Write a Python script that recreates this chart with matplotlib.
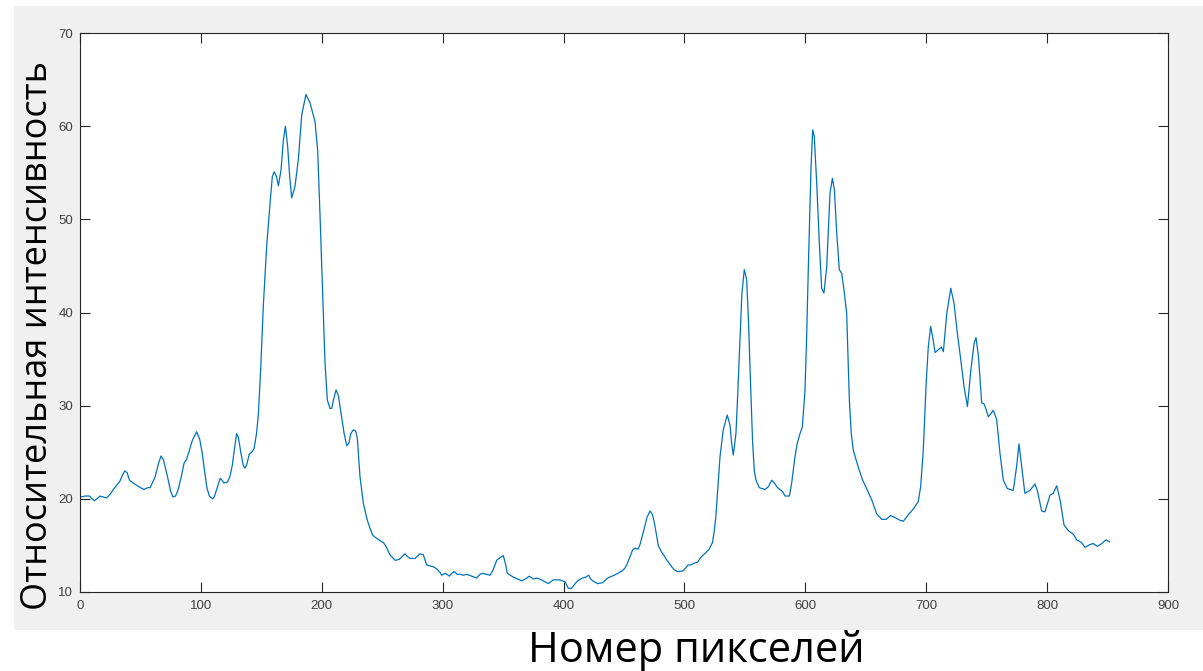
import matplotlib
matplotlib.use('Agg')
import matplotlib.pyplot as plt
from matplotlib.patches import Rectangle

# pixel index along the profile and relative intensity
pixel = [1, 4, 8, 10, 12, 14, 16.5, 19, 22, 25, 27.6, 33, 35, 37, 39, 41, 45, 50, 53, 56,
         58, 62, 65, 67, 69, 72, 75, 77, 79, 81, 84, 86, 88, 90, 93, 96.5, 99, 101, 103, 105,
         107, 109.5, 111, 113, 116, 117.5, 119, 122, 124, 126, 128, 129.6, 131, 133, 135, 136.5, 138, 140, 142, 144,
         146, 147.5, 149.5, 151.6, 154.4, 157.2, 159.1, 160.7, 162.5, 164.1, 166.3, 168.2, 169.9, 171.8, 173.5, 175.1, 177.8, 180.6, 183.4, 186.9,
         190.3, 194.4, 196.6, 198.5, 200.8, 202.7, 204.6, 206.8, 208.2, 210, 211.8, 213.7, 216.5, 218.5, 220.6, 222.5, 224, 226.1, 228, 229.4,
         231.6, 234.4, 237.7, 240, 242.1, 245, 248.2, 251, 253.1, 256.4, 260.6, 264.1, 266.5, 268.8, 271, 273, 277.1, 279.5, 281.2, 284,
         286.8, 289.5, 292.3, 295, 297.8, 299.2, 301.9, 303.5, 305.5, 307.5, 309.4, 312, 314.3, 317, 319.9, 324, 328.1, 331, 333.1, 336,
         339.2, 341.5, 344.7, 347.5, 350.2, 352, 353.5, 356, 358.4, 362, 365.4, 368.5, 371.7, 375, 377.8, 381.9, 384.5, 387.4, 389.5, 391.5,
         394, 397, 401.2, 403.9, 406.7, 409, 411.6, 415.8, 418.5, 420.7, 422.5, 424, 428.1, 432.3, 436.4, 441.9, 445, 448.8, 451, 452.9,
         455, 457.1, 459, 461.7, 463.5, 466.7, 469, 471.6, 473.5, 475, 476.8, 478.3, 481, 483.2, 485.5, 487.4, 489.5, 491.5, 494, 497,
         499, 501.1, 503, 505.3, 508, 510.8, 513, 514.9, 517.5, 520.4, 523.2, 524.6, 526, 527.5, 529.4, 532.1, 535.4, 537.7, 539, 540.4,
         542.6, 544, 545.9, 547.5, 549.5, 551.5, 553, 554.2, 556.4, 557.8, 559.2, 561.9, 566.6, 569.4, 572.2, 574.9, 577, 579, 581, 583.2,
         586.8, 588.7, 591.4, 593.4, 595.6, 597.5, 599.7, 601, 602.5, 604.7, 606.1, 607.4, 609.4, 611.6, 613.5, 615.4, 617.7, 620.4, 622.4, 624,
         626, 628.1, 630.1, 632, 634.2, 636.4, 638, 639.7, 643.8, 647.4, 650.7, 654.9, 659, 663.2, 666.8, 670.5, 674, 678.3, 681.1, 685.2,
         689.3, 693.4, 695.4, 697.6, 699.8, 701.7, 703.7, 705.3, 707.3, 710.9, 712.5, 714.2, 717, 720.3, 723, 725.8, 728.6, 731.3, 734.1, 736.9,
         739.6, 741.2, 743.2, 745.9, 747.8, 749.5, 751.4, 755.5, 758.3, 761, 763.8, 767.1, 772, 774.8, 776.7, 778.9, 781.6, 785.8, 789.9, 791.9,
         795.5, 798.2, 802.4, 805.1, 807.9, 810.7, 814, 817.5, 821.7, 824.5, 828.6, 831.3, 835.5, 838.2, 841.5, 845.2, 848.7, 851.5]
intensity = [20.2, 20.3, 20.3, 20.0, 19.8, 20.0, 20.3, 20.2, 20.1, 20.5, 21.0, 21.9, 22.5, 23.0, 22.8, 22.0, 21.6, 21.2, 21.0, 21.2,
             21.2, 22.3, 23.8, 24.6, 24.2, 22.6, 20.8, 20.2, 20.3, 20.9, 22.5, 23.8, 24.2, 25.0, 26.3, 27.2, 26.4, 25.0, 23.0, 21.2,
             20.3, 20.0, 20.2, 21.0, 22.2, 22.0, 21.7, 21.8, 22.4, 23.6, 25.6, 27.0, 26.6, 25.0, 23.6, 23.3, 23.7, 24.8, 25.0, 25.4,
             27.0, 29.0, 34.0, 40.6, 47.1, 51.7, 54.6, 55.1, 54.6, 53.6, 55.3, 58.5, 60.0, 57.8, 54.5, 52.3, 53.5, 56.4, 61.2, 63.4,
             62.5, 60.5, 57.4, 50.6, 41.7, 34.5, 30.6, 29.7, 29.7, 30.8, 31.7, 31.1, 28.7, 27.0, 25.7, 26.0, 27.0, 27.4, 27.3, 26.5,
             22.4, 19.5, 17.7, 16.8, 16.1, 15.8, 15.5, 15.3, 14.9, 14.0, 13.4, 13.5, 13.8, 14.1, 13.8, 13.6, 13.6, 13.9, 14.1, 14.0,
             12.9, 12.8, 12.7, 12.5, 12.1, 11.8, 12.0, 11.9, 11.7, 12.0, 12.2, 11.9, 11.9, 11.8, 11.9, 11.7, 11.5, 11.9, 12.0, 11.9,
             11.8, 12.3, 13.4, 13.7, 13.9, 13.0, 12.0, 11.8, 11.6, 11.4, 11.2, 11.4, 11.7, 11.4, 11.5, 11.3, 11.1, 10.9, 11.1, 11.3,
             11.3, 11.3, 11.1, 10.4, 10.4, 10.8, 11.2, 11.5, 11.6, 11.8, 11.4, 11.2, 10.9, 11.0, 11.5, 11.8, 12.0, 12.3, 12.6, 13.1,
             13.8, 14.5, 14.7, 14.6, 15.2, 16.8, 18.0, 18.7, 18.3, 17.5, 16.2, 15.0, 14.3, 13.9, 13.4, 13.1, 12.7, 12.4, 12.2, 12.2,
             12.3, 12.6, 12.9, 12.9, 13.1, 13.2, 13.6, 13.9, 14.2, 14.6, 15.3, 16.5, 18.1, 21.0, 24.5, 27.4, 29.0, 27.9, 26.0, 24.7,
             27.0, 31.0, 37.0, 42.0, 44.6, 43.5, 39.0, 34.2, 26.0, 23.0, 22.0, 21.2, 21.0, 21.3, 22.0, 21.6, 21.2, 21.0, 20.8, 20.3,
             20.3, 21.7, 24.5, 26.0, 27.0, 27.7, 31.6, 37.0, 44.9, 55.6, 59.6, 58.9, 53.9, 47.4, 42.6, 42.1, 44.9, 52.8, 54.4, 53.2,
             48.5, 44.6, 44.2, 42.4, 39.9, 30.6, 27.0, 25.2, 23.4, 22.0, 21.1, 19.9, 18.4, 17.8, 17.8, 18.2, 18.0, 17.7, 17.6, 18.3,
             18.9, 19.7, 21.3, 25.3, 32.0, 36.3, 38.5, 37.4, 35.7, 36.1, 36.3, 35.8, 39.9, 42.6, 41.0, 37.7, 34.9, 32.0, 29.9, 33.8,
             36.7, 37.3, 35.3, 30.3, 30.2, 29.6, 28.8, 29.5, 28.5, 24.9, 22.0, 21.1, 20.9, 23.5, 25.9, 23.5, 20.6, 20.9, 21.6, 20.9,
             18.7, 18.6, 20.4, 20.6, 21.4, 19.9, 17.2, 16.6, 16.2, 15.6, 15.3, 14.8, 15.1, 15.2, 14.9, 15.2, 15.6, 15.4]

xticks = list(range(0, 901, 100))
yticks = list(range(10, 71, 10))

W, H = 1203, 671
fig = plt.figure(figsize=(W / 100, H / 100), dpi=100)
fig.patch.set_facecolor('white')
# grey matlab-like figure panel
fig.patches.append(Rectangle((14 / W, 41 / H), (W - 14) / W, 624 / H, transform=fig.transFigure,
                             facecolor='#f0f0f0', edgecolor='none', zorder=-10))

ax = fig.add_axes([80 / W, 79 / H, 1088 / W, 559 / H])
ax.plot(pixel, intensity, color='#0072BD', lw=0.9)
ax.set_xlim(0, 900)
ax.set_ylim(10, 70)
ax.set_xticks(xticks)
ax.set_yticks(yticks)
ax.set_facecolor('white')
for s in ax.spines.values():
    s.set_color('#262626')
    s.set_linewidth(0.8)
ax.tick_params(direction='in', length=7.5, width=0.8, top=True, right=True,
               colors='#262626', labelsize=9.5, labelcolor='#404040')
ax.tick_params(axis='x', pad=6)
ax.tick_params(axis='y', pad=5)
for lab in ax.get_xticklabels() + ax.get_yticklabels():
    lab.set_family('Liberation Sans')

fig.text(696 / W, (H - 662) / H, 'Номер пикселей', ha='center', va='baseline',
         fontsize=30, family='Open Sans', color='black')
fig.text(47 / W, (H - 335) / H, 'Относительная интенсивность', rotation=90, rotation_mode='anchor',
         ha='center', va='baseline', fontsize=26, family='Open Sans', color='black')

fig.savefig('out.png', dpi=100)
